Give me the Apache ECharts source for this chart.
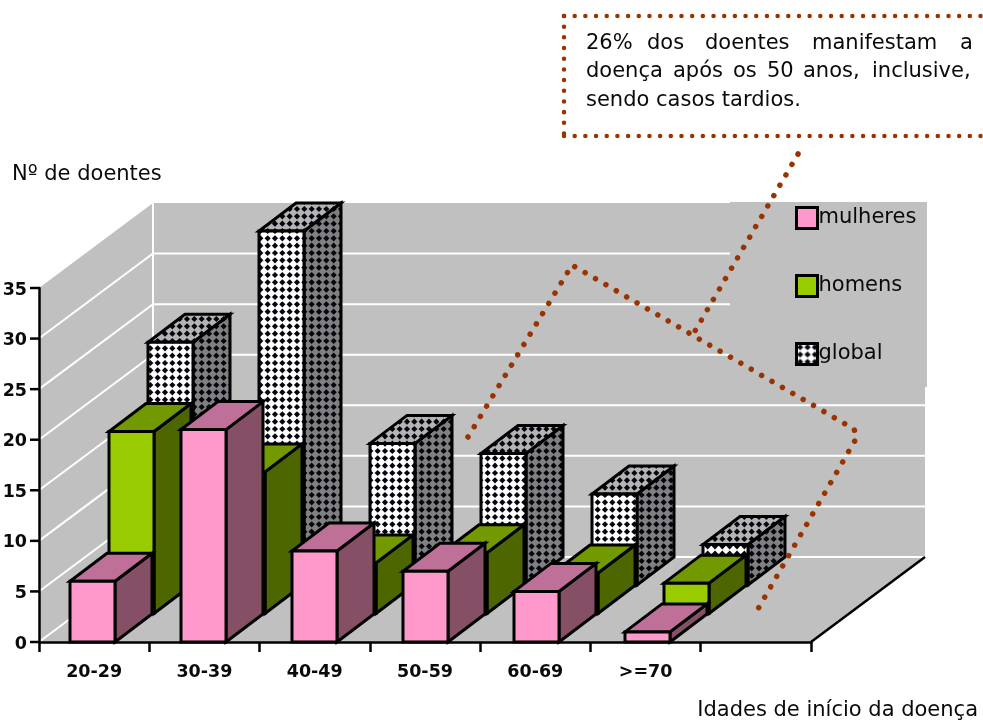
<!DOCTYPE html>
<html>
<head>
<meta charset="utf-8">
<style>html,body{margin:0;padding:0;background:#fff}#chart{width:983px;height:722px}</style>
<script src="https://cdn.jsdelivr.net/npm/echarts@6/dist/echarts.min.js"></script>
</head>
<body>
<div id="chart"></div>
<script>
// Age of onset, number of patients per age band
const categories = ['20-29', '30-39', '40-49', '50-59', '60-69', '>=70', ''];
const mulheres = [6, 21, 9, 7, 5, 1];
const homens = [18, 14, 5, 6, 4, 3];
const global_ = [24, 35, 14, 13, 9, 4];
const yTicks = [0, 5, 10, 15, 20, 25, 30, 35];

const FONT = 'DejaVu Sans';
const SIZE = 21;
const TEXT = '#0a0a0a';
const WALL = '#c0c0c0';
const DOT = '#993300';

// Oblique projection of the floor depth
const DEPTH_X = 114, DEPTH_Y = -85;
const ROW_X = 39, ROW_Y = -28.5;
const BAR_W = 45, BAR_DX = 37, BAR_DY = -28;
const BAR_SHIFT = -22.5;

// Dotted fill used by the "global" bars: three dots per tile edge
function dottedFill(bg) {
  const size = 22, pitch = size / 3, r = 3.1;
  const c = document.createElement('canvas');
  c.width = c.height = size;
  const g = c.getContext('2d');
  g.fillStyle = bg;
  g.fillRect(0, 0, size, size);
  g.fillStyle = '#050510';
  for (let i = 0; i < 3; i++) {
    for (let j = 0; j < 3; j++) {
      const cx = (i + 0.5) * pitch, cy = (j + 0.5) * pitch;
      g.beginPath();
      g.moveTo(cx - r, cy);
      g.lineTo(cx, cy - r);
      g.lineTo(cx + r, cy);
      g.lineTo(cx, cy + r);
      g.closePath();
      g.fill();
    }
  }
  return { image: c, repeat: 'repeat' };
}

const palette = {
  mulheres: { front: '#ff99cc', side: '#855066', top: '#bf7099' },
  homens: { front: '#99cc00', side: '#4d6600', top: '#739900' },
  global: { front: dottedFill('#ffffff'), side: dottedFill('#808080'), top: dottedFill('#b4b4b4') }
};

function prism(row, faces) {
  return function (params, api) {
    const cat = api.value(0);
    const t = api.coord([cat, api.value(1)]);
    const b = api.coord([cat, 0]);
    const l = t[0] + BAR_SHIFT + row * ROW_X;
    const r = l + BAR_W;
    const top = t[1] + row * ROW_Y;
    const base = b[1] + row * ROW_Y;
    const edge = { stroke: '#000', lineWidth: 3, lineJoin: 'miter' };
    const poly = (pts, fill) => ({
      type: 'polygon', shape: { points: pts }, style: Object.assign({ fill }, edge)
    });
    return {
      type: 'group',
      children: [
        poly([[r, base], [r + BAR_DX, base + BAR_DY], [r + BAR_DX, top + BAR_DY], [r, top]], faces.side),
        poly([[l, top], [r, top], [r + BAR_DX, top + BAR_DY], [l + BAR_DX, top + BAR_DY]], faces.top),
        poly([[l, base], [r, base], [r, top], [l, top]], faces.front)
      ]
    };
  };
}

function walls(params, api) {
  const cs = params.coordSys;
  const x0 = cs.x, x1 = cs.x + cs.width, yB = cs.y + cs.height, yT = cs.y;
  const poly = (pts) => ({ type: 'polygon', shape: { points: pts }, style: { fill: WALL } });
  const children = [
    poly([[x0, yB], [x0 + DEPTH_X, yB + DEPTH_Y], [x0 + DEPTH_X, yT + DEPTH_Y], [x0, yT]]),
    poly([[x0 + DEPTH_X, yT + DEPTH_Y], [x1 + DEPTH_X, yT + DEPTH_Y], [x1 + DEPTH_X, yB + DEPTH_Y], [x0 + DEPTH_X, yB + DEPTH_Y]]),
    poly([[x0, yB], [x1, yB], [x1 + DEPTH_X, yB + DEPTH_Y], [x0 + DEPTH_X, yB + DEPTH_Y]])
  ];
  const white = { stroke: '#fff', lineWidth: 2, fill: null };
  yTicks.forEach((v) => {
    const y = api.coord([0, v])[1];
    // Outward tick on the value axis
    children.push({
      type: 'line',
      shape: { x1: x0 - 9, y1: y, x2: x0, y2: y },
      style: { stroke: '#000', lineWidth: 2.5 }
    });
    // The top of the walls carries no grid line
    if (v < yTicks[yTicks.length - 1]) {
      children.push({
        type: 'polyline',
        shape: { points: [[x0, y], [x0 + DEPTH_X, y + DEPTH_Y], [x1 + DEPTH_X, y + DEPTH_Y]] },
        style: white
      });
    }
  });
  children.push({
    type: 'line',
    shape: { x1: x0 + DEPTH_X, y1: yT + DEPTH_Y, x2: x0 + DEPTH_X, y2: yB + DEPTH_Y },
    style: white
  });
  children.push({
    type: 'line',
    shape: { x1: x1, y1: yB, x2: x1 + DEPTH_X, y2: yB + DEPTH_Y },
    style: { stroke: '#000', lineWidth: 2.5 }
  });
  return { type: 'group', children };
}

function dotted(points, width, gap) {
  return {
    type: 'polyline', z: 20, silent: true,
    shape: { points },
    style: { stroke: DOT, fill: null, lineWidth: width, lineCap: 'round', lineDash: [0.01, gap] }
  };
}

// Callout words are placed one by one so the first two lines read as justified
const calloutLines = [
  { y: 44, words: [['26%', 586], ['dos', 647], ['doentes', 705], ['manifestam', 812], ['a', 960]] },
  { y: 72, words: [['doença', 586], ['após', 673], ['os', 733], ['50', 767], ['anos,', 803], ['inclusive,', 872]] },
  { y: 101, words: [['sendo casos tardios.', 586]] }
];
const calloutWords = [];
calloutLines.forEach((line) => line.words.forEach((w) => calloutWords.push({
  type: 'text', z: 21, x: w[1], y: line.y,
  style: { text: w[0], fill: TEXT, font: SIZE + 'px "' + FONT + '"', verticalAlign: 'middle' }
})));

const chart = echarts.init(document.getElementById('chart'), null, { renderer: 'canvas' });
const rows = (vals) => vals.map((v, i) => [i, v]);

chart.setOption({
  animation: false,
  backgroundColor: '#fff',
  textStyle: { fontFamily: FONT },
  grid: [
    { left: 39, top: 288, width: 772, height: 354, outerBoundsMode: 'none' },
    { left: 37, top: 288, width: 777, height: 354, outerBoundsMode: 'none', show: false }
  ],
  xAxis: [
    {
      type: 'category', gridIndex: 0, data: categories, z: 3,
      axisLine: { lineStyle: { color: '#000', width: 2.5 } },
      axisTick: { show: true, length: 10, alignWithLabel: false, lineStyle: { color: '#000', width: 2.5 } },
      axisLabel: { interval: 0, color: TEXT, fontWeight: 'bold', fontSize: 17.5, fontFamily: FONT, margin: 21 },
      name: 'Idades de início da doença',
      nameLocation: 'end', nameGap: 167,
      nameTextStyle: { color: TEXT, fontSize: SIZE, fontFamily: FONT, align: 'right', verticalAlign: 'top', padding: [58, 0, 0, 0] }
    },
    { type: 'category', gridIndex: 1, data: categories, show: false }
  ],
  yAxis: [
    {
      type: 'value', gridIndex: 0, min: 0, max: 35, interval: 5, z: 3,
      splitLine: { show: false },
      axisLine: { show: true, lineStyle: { color: '#000', width: 2.5 } },
      axisTick: { show: false },
      axisLabel: { color: TEXT, fontWeight: 'bold', fontSize: 17.5, fontFamily: FONT, margin: 12, verticalAlign: 'bottom', lineHeight: 16, padding: [0, 0, -10, 0] },
      name: 'Nº de doentes',
      nameLocation: 'end', nameGap: 113,
      nameTextStyle: { color: TEXT, fontSize: SIZE, fontFamily: FONT, align: 'left', verticalAlign: 'middle', padding: [0, 0, 0, -27] }
    },
    { type: 'value', gridIndex: 1, min: 0, max: 35, interval: 5, show: false }
  ],
  legend: {
    orient: 'vertical', left: 795, top: 206, padding: 0,
    itemWidth: 21, itemHeight: 21, itemGap: 44, itemStyle: { borderColor: '#000', borderWidth: 3 },
    textStyle: { color: TEXT, fontSize: SIZE, fontFamily: FONT, padding: [0, 0, 0, -4], lineHeight: 21 },
    z: 6,
    data: [
      { name: 'mulheres', icon: 'rect', itemStyle: { color: palette.mulheres.front } },
      { name: 'homens', icon: 'rect', itemStyle: { color: palette.homens.front } },
      { name: 'global', icon: 'rect', itemStyle: { color: palette.global.front } }
    ]
  },
  graphic: {
    elements: [
      { type: 'rect', z: 3, silent: true, shape: { x: 730, y: 202, width: 197, height: 185 }, style: { fill: WALL } },
      dotted([[564, 16], [983, 16]], 4.5, 10.67),
      dotted([[564, 16], [564, 136]], 4.5, 10.67),
      dotted([[564, 136], [983, 136]], 4.5, 10.67),
      dotted([[798, 154], [695, 331]], 5.5, 12),
      dotted([[468, 437], [572, 265], [854, 429], [857, 437], [755, 614]], 5.5, 12)
    ].concat(calloutWords)
  },
  series: [
    { type: 'custom', name: 'paredes', xAxisIndex: 0, yAxisIndex: 0, z: 1, silent: true, renderItem: walls, data: [[0, 0]] },
    { type: 'custom', name: 'global', xAxisIndex: 1, yAxisIndex: 1, z: 4, encode: { x: 0, y: 1 }, itemStyle: { color: palette.global.front }, renderItem: prism(2, palette.global), data: rows(global_) },
    { type: 'custom', name: 'homens', xAxisIndex: 1, yAxisIndex: 1, z: 4, encode: { x: 0, y: 1 }, itemStyle: { color: palette.homens.front }, renderItem: prism(1, palette.homens), data: rows(homens) },
    { type: 'custom', name: 'mulheres', xAxisIndex: 1, yAxisIndex: 1, z: 4, encode: { x: 0, y: 1 }, itemStyle: { color: palette.mulheres.front }, renderItem: prism(0, palette.mulheres), data: rows(mulheres) }
  ]
});
</script>
</body>
</html>
